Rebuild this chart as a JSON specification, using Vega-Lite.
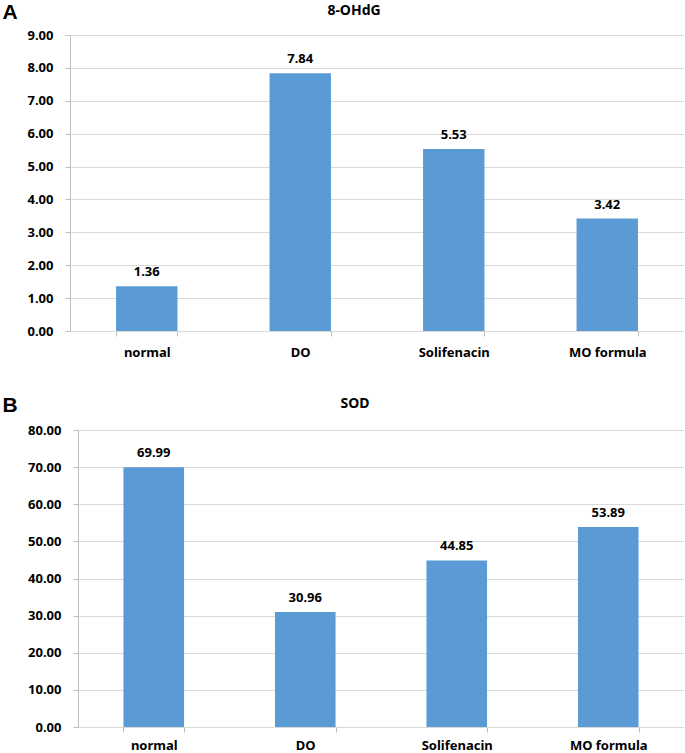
{
  "$schema": "https://vega.github.io/schema/vega-lite/v6.json",
  "padding": {"left": 2, "top": 1, "right": 0, "bottom": 0},
  "autosize": {"type": "pad"},
  "background": "white",
  "spacing": 35,
  "config": {
    "view": {"stroke": null},
    "font": "Noto Sans",
    "title": {"fontSize": 14, "fontWeight": "bold", "color": "#000000", "font": "Noto Sans", "anchor": "middle", "frame": "group"},
    "axis": {
      "labelFont": "Noto Sans", "labelFontWeight": "bold", "labelFontSize": 13, "labelColor": "#000000", "labelOverlap": false,
      "domainColor": "#BFBFBF", "tickColor": "#BFBFBF", "gridColor": "#D9D9D9", "domainWidth": 1, "gridWidth": 1
    }
  },
  "datasets": {
    "ohdg": [
      {"group": "normal", "value": 1.36},
      {"group": "DO", "value": 7.84},
      {"group": "Solifenacin", "value": 5.53},
      {"group": "MO formula", "value": 3.42}
    ],
    "sod": [
      {"group": "normal", "value": 69.99},
      {"group": "DO", "value": 30.96},
      {"group": "Solifenacin", "value": 44.85},
      {"group": "MO formula", "value": 53.89}
    ]
  },
  "vconcat": [
    {
      "title": {"text": "8-OHdG", "offset": -17, "dx": -23},
      "width": 614,
      "height": 296,
      "data": {"name": "ohdg"},
      "encoding": {
        "x": {"field": "group", "type": "nominal", "sort": null,
              "scale": {"paddingInner": 0.6, "paddingOuter": 0.3},
              "axis": {"title": null, "labelAngle": 0, "tickBand": "extent", "tickSize": 5, "labelPadding": 10, "domain": false, "grid": false}},
        "y": {"field": "value", "type": "quantitative",
              "scale": {"domain": [0, 9], "nice": false},
              "axis": {"title": "A", "titleAngle": 0, "titleAlign": "left", "titleBaseline": "top", "titleX": -68, "titleY": -34,
                       "titleFont": "Liberation Sans", "titleFontSize": 21, "titleFontWeight": "bold", "titleColor": "#000000",
                       "values": [0,1,2,3,4,5,6,7,8,9], "format": ".2f", "tickSize": 5, "labelPadding": 12, "grid": true}}
      },
      "layer": [
        {"mark": {"type": "bar", "color": "#5B9BD5"}},
        {"mark": {"type": "text", "dy": -14, "fontWeight": "bold", "fontSize": 13, "color": "#000000", "font": "Noto Sans"},
         "encoding": {"text": {"field": "value", "type": "quantitative", "format": ".2f"}}}
      ]
    },
    {
      "title": {"text": "SOD", "offset": -17, "dx": -22},
      "width": 614,
      "height": 297,
      "data": {"name": "sod"},
      "encoding": {
        "x": {"field": "group", "type": "nominal", "sort": null,
              "scale": {"paddingInner": 0.6, "paddingOuter": 0.3, "range": [8, 614]},
              "axis": {"title": null, "labelAngle": 0, "tickBand": "extent", "tickSize": 5, "labelPadding": 7, "domain": false, "grid": false}},
        "y": {"field": "value", "type": "quantitative",
              "scale": {"domain": [0, 80], "nice": false},
              "axis": {"title": "B", "titleAngle": 0, "titleAlign": "left", "titleBaseline": "top", "titleX": -76, "titleY": -36, "offset": -8,
                       "titleFont": "Liberation Sans", "titleFontSize": 21, "titleFontWeight": "bold", "titleColor": "#000000",
                       "values": [0,10,20,30,40,50,60,70,80], "format": ".2f", "tickSize": 5, "labelPadding": 12, "grid": true}}
      },
      "layer": [
        {"mark": {"type": "bar", "color": "#5B9BD5"}},
        {"mark": {"type": "text", "dy": -14, "fontWeight": "bold", "fontSize": 13, "color": "#000000", "font": "Noto Sans"},
         "encoding": {"text": {"field": "value", "type": "quantitative", "format": ".2f"}}}
      ]
    }
  ]
}
